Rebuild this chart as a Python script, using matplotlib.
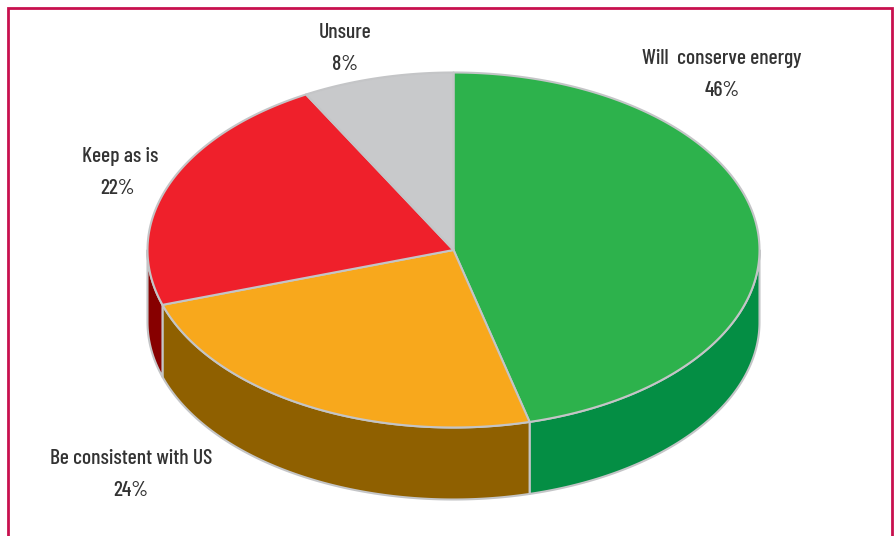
import numpy as np
import matplotlib
matplotlib.use("Agg")
import matplotlib.pyplot as plt

categories = ["Will  conserve energy", "Be consistent with US", "Keep as is", "Unsure"]
shares = [46, 24, 22, 8]
top_colors = ["#2DB24C", "#F8A81C", "#EF202B", "#C8C9CB"]
side_colors = ["#048E44", "#8F6000", "#870000", "#9A9A9A"]
label_xy = [(722, 59), (131, 459), (120, 157), (345, 33)]
pct_xy = [(722, 90), (131, 490), (118, 188), (345, 64)]

CX, CY, RX, RY, DEPTH = 453.5, 250, 306, 177.5, 72
EDGE = "#C4C5C7"
FRAME = "#C8104E"
FONT = dict(family=["Barlow Condensed", "Open Sans", "DejaVu Sans"], stretch="condensed",
            weight="medium", fontsize=15.5, color="#333333",
            ha="center", va="center", zorder=6)

fig = plt.figure(figsize=(8.95, 5.36), dpi=100, facecolor="white")
ax = fig.add_axes([0, 0, 1, 1])
ax.set_xlim(0, 895)
ax.set_ylim(536, 0)
ax.axis("off")


def rim(t0, t1, n=200):
    t = np.radians(np.linspace(t0, t1, n))
    return CX + RX * np.sin(t), CY - RY * np.cos(t)


edges = np.concatenate([[0], np.cumsum(shares)]) * 360.0 / np.sum(shares)

# side walls (only the front half of the rim is visible)
for i in range(len(shares)):
    a, b = max(edges[i], 90), min(edges[i + 1], 270)
    if b <= a:
        continue
    x, y = rim(a, b)
    ax.fill(np.r_[x, x[::-1]], np.r_[y, (y + DEPTH)[::-1]],
            facecolor=side_colors[i], edgecolor=EDGE, lw=1.5,
            joinstyle="round", zorder=2)

# top face
for i in range(len(shares)):
    x, y = rim(edges[i], edges[i + 1])
    ax.fill(np.r_[CX, x], np.r_[CY, y], facecolor=top_colors[i],
            edgecolor=EDGE, lw=1.5, joinstyle="round", zorder=3)

# frame, open at the bottom
ax.plot([8, 8, 892, 892], [536, 8, 8, 536], color=FRAME, lw=2.0,
        solid_joinstyle="miter", zorder=5)

for name, share, p, q in zip(categories, shares, label_xy, pct_xy):
    ax.text(p[0], p[1], name, **FONT)
    ax.text(q[0], q[1], f"{share}%", **FONT)

fig.savefig("out.png", dpi=100)
